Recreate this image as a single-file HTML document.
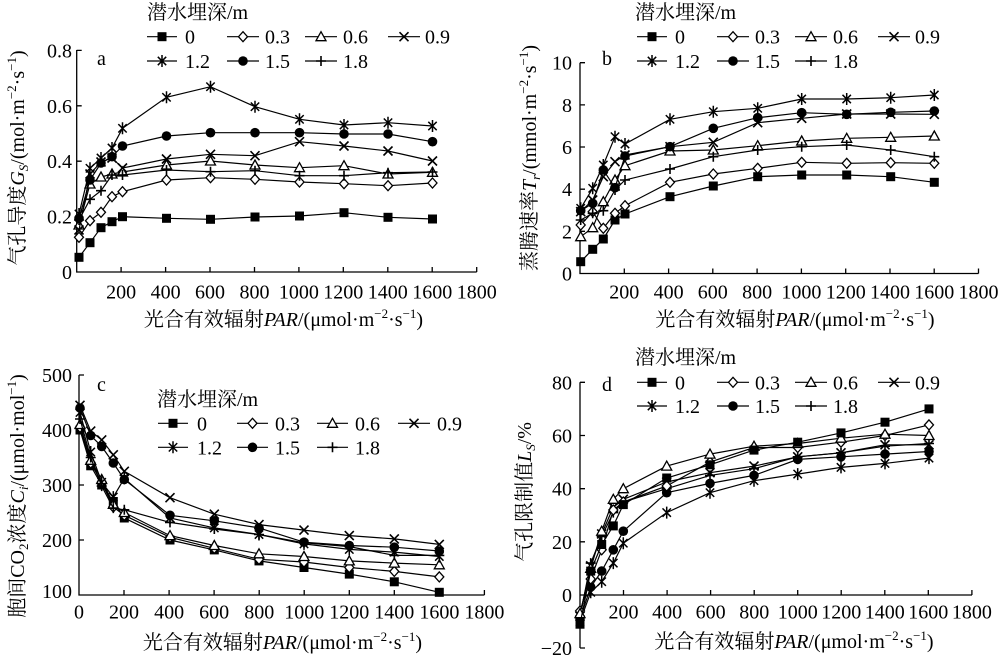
<!DOCTYPE html>
<html><head><meta charset="utf-8">
<style>
html,body{margin:0;padding:0;background:#fff;}
svg{display:block;}
text{font-family:"Liberation Serif","Noto Serif CJK SC",serif;font-size:20px;fill:#000;}
.ax{stroke:#000;stroke-width:1.3;fill:none;}
.p{fill:none;stroke:#000;stroke-width:1.2;}
.s0{marker-start:url(#k0);marker-mid:url(#k0);marker-end:url(#k0);}
.s1{marker-start:url(#k1);marker-mid:url(#k1);marker-end:url(#k1);}
.s2{marker-start:url(#k2);marker-mid:url(#k2);marker-end:url(#k2);}
.s3{marker-start:url(#k3);marker-mid:url(#k3);marker-end:url(#k3);}
.s4{marker-start:url(#k4);marker-mid:url(#k4);marker-end:url(#k4);}
.s5{marker-start:url(#k5);marker-mid:url(#k5);marker-end:url(#k5);}
.s6{marker-start:url(#k6);marker-mid:url(#k6);marker-end:url(#k6);}
.l0{marker-mid:url(#k0);}.l1{marker-mid:url(#k1);}.l2{marker-mid:url(#k2);}.l3{marker-mid:url(#k3);}
.l4{marker-mid:url(#k4);}.l5{marker-mid:url(#k5);}.l6{marker-mid:url(#k6);}
</style></head>
<body>
<svg width="1000" height="661" viewBox="0 0 1000 661" xmlns="http://www.w3.org/2000/svg">
<defs>
<marker id="k0" markerWidth="12" markerHeight="12" refX="6" refY="6" markerUnits="userSpaceOnUse" overflow="visible"><rect x="1.5" y="1.5" width="9" height="9" fill="#000"/></marker>
<marker id="k1" markerWidth="12" markerHeight="12" refX="6" refY="6" markerUnits="userSpaceOnUse" overflow="visible"><path d="M6,1 L10.5,6 L6,11 L1.5,6Z" fill="#fff" stroke="#000" stroke-width="1.3"/></marker>
<marker id="k2" markerWidth="12" markerHeight="12" refX="6" refY="6" markerUnits="userSpaceOnUse" overflow="visible"><path d="M6,1 L11,10 L1,10Z" fill="#fff" stroke="#000" stroke-width="1.3"/></marker>
<marker id="k3" markerWidth="12" markerHeight="12" refX="6" refY="6" markerUnits="userSpaceOnUse" overflow="visible"><path d="M1.5,1.5 L10.5,10.5 M1.5,10.5 L10.5,1.5" stroke="#000" stroke-width="1.6" fill="none"/></marker>
<marker id="k4" markerWidth="12" markerHeight="12" refX="6" refY="6" markerUnits="userSpaceOnUse" overflow="visible"><path d="M1.8,1.8 L10.2,10.2 M1.8,10.2 L10.2,1.8 M6,0 L6,12" stroke="#000" stroke-width="1.5" fill="none"/></marker>
<marker id="k5" markerWidth="12" markerHeight="12" refX="6" refY="6" markerUnits="userSpaceOnUse" overflow="visible"><circle cx="6" cy="6" r="4.8" fill="#000"/></marker>
<marker id="k6" markerWidth="12" markerHeight="12" refX="6" refY="6" markerUnits="userSpaceOnUse" overflow="visible"><path d="M1,6 L11,6 M6,1 L6,11" stroke="#000" stroke-width="1.6" fill="none"/></marker>
</defs>

<!-- ================= Panel a ================= -->
<path class="ax" d="M76.7,50 L76.7,272 L476.7,272"/>
<path class="ax" d="M76.7,50.4 h5 M76.7,105.8 h5 M76.7,161.2 h5 M76.7,216.6 h5 M121.1,272 v-5 M165.6,272 v-5 M210,272 v-5 M254.5,272 v-5 M298.9,272 v-5 M343.3,272 v-5 M387.8,272 v-5 M432.2,272 v-5 M476.7,272 v-5"/>
<g text-anchor="end">
<text x="72" y="57.4">0.8</text><text x="72" y="112.8">0.6</text><text x="72" y="168.2">0.4</text><text x="72" y="223.6">0.2</text><text x="72" y="279">0</text>
</g>
<g text-anchor="middle">
<text x="121.1" y="298.5">200</text><text x="165.6" y="298.5">400</text><text x="210" y="298.5">600</text><text x="254.5" y="298.5">800</text><text x="298.9" y="298.5">1000</text><text x="343.3" y="298.5">1200</text><text x="387.8" y="298.5">1400</text><text x="432.2" y="298.5">1600</text><text x="476.7" y="298.5">1800</text>
</g>
<text x="97" y="65">a</text>
<text x="283.5" y="326" text-anchor="middle">光合有效辐射<tspan font-style="italic">PAR</tspan>/(μmol·m<tspan font-size="13" dy="-8">−2</tspan><tspan dy="8">·s</tspan><tspan font-size="13" dy="-8">−1</tspan><tspan dy="8">)</tspan></text>
<text transform="translate(24,158) rotate(-90)" text-anchor="middle">气孔导度<tspan font-style="italic">G</tspan><tspan font-size="13" dy="4" font-style="italic">S</tspan><tspan dy="-4">/(mol·m</tspan><tspan font-size="13" dy="-8">−2</tspan><tspan dy="8">·s</tspan><tspan font-size="13" dy="-8">−1</tspan><tspan dy="8">)</tspan></text>

<polyline class="p s0" points="79,257.3 90,242.7 101,227.7 112,221.7 122.5,216.7 166.5,218.3 210.5,219.3 255,217 299.5,216 344,212.7 388,217.3 432.5,219"/>
<polyline class="p s1" points="79,237.3 90,220.7 101,212.3 112,196.7 122.5,191.7 166.5,180 210.5,177.7 255,179.3 299.5,182 344,183.7 388,185.7 432.5,183"/>
<polyline class="p s2" points="79,225 90,184 101,177 112,174 122.5,172 166.5,165 210.5,161 255,165 299.5,167.7 344,165.7 388,174 432.5,172.3"/>
<polyline class="p s6" points="79,220 90,199.3 101,190.7 112,175 122.5,175 166.5,170 210.5,171.7 255,170.7 299.5,175.7 344,175.7 388,172.7 432.5,172"/>
<polyline class="p s3" points="79,230 90,174 101,162 112,158 122.5,168 166.5,159 210.5,154.3 255,155.7 299.5,141.7 344,146 388,151 432.5,161"/>
<polyline class="p s5" points="79,218.3 90,180 101,163 112,156.7 122.5,146 166.5,136 210.5,132.7 255,132.7 299.5,132.7 344,134 388,134 432.5,141.7"/>
<polyline class="p s4" points="79,214 90,168.3 101,158 112,148 122.5,128.3 166.5,97.3 210.5,86.7 255,106.7 299.5,119.3 344,125 388,122.7 432.5,126"/>

<text x="147" y="19">潜水埋深/m</text>
<polyline class="p l0" points="147,36.7 162,36.7 177,36.7"/><text x="185" y="43.7">0</text>
<polyline class="p l1" points="227,36.7 243,36.7 259,36.7"/><text x="265" y="43.7">0.3</text>
<polyline class="p l2" points="305,36.7 321,36.7 337,36.7"/><text x="343" y="43.7">0.6</text>
<polyline class="p l3" points="388,36.7 404,36.7 420,36.7"/><text x="425" y="43.7">0.9</text>
<polyline class="p l4" points="147,61 162,61 177,61"/><text x="185" y="68">1.2</text>
<polyline class="p l5" points="227,61 243,61 259,61"/><text x="265" y="68">1.5</text>
<polyline class="p l6" points="305,61 321,61 337,61"/><text x="343" y="68">1.8</text>

<!-- ================= Panel b ================= -->
<path class="ax" d="M580,62.7 L580,273.5 L978.5,273.5"/>
<path class="ax" d="M580,62.7 h5 M580,104.9 h5 M580,147 h5 M580,189.2 h5 M580,231.3 h5 M624.3,273.5 v-5 M668.6,273.5 v-5 M712.8,273.5 v-5 M757.1,273.5 v-5 M801.4,273.5 v-5 M845.7,273.5 v-5 M890,273.5 v-5 M934.2,273.5 v-5 M978.5,273.5 v-5"/>
<g text-anchor="end">
<text x="572" y="69.7">10</text><text x="572" y="111.9">8</text><text x="572" y="154">6</text><text x="572" y="196.2">4</text><text x="572" y="238.3">2</text><text x="572" y="280.5">0</text>
</g>
<g text-anchor="middle">
<text x="624.3" y="298.5">200</text><text x="668.6" y="298.5">400</text><text x="712.8" y="298.5">600</text><text x="757.1" y="298.5">800</text><text x="801.4" y="298.5">1000</text><text x="845.7" y="298.5">1200</text><text x="890" y="298.5">1400</text><text x="934.2" y="298.5">1600</text><text x="978.5" y="298.5">1800</text>
</g>
<text x="602" y="65">b</text>
<text x="795" y="326" text-anchor="middle">光合有效辐射<tspan font-style="italic">PAR</tspan>/(μmol·m<tspan font-size="13" dy="-8">−2</tspan><tspan dy="8">·s</tspan><tspan font-size="13" dy="-8">−1</tspan><tspan dy="8">)</tspan></text>
<text transform="translate(536,158) rotate(-90)" text-anchor="middle">蒸腾速率<tspan font-style="italic">T</tspan><tspan font-size="13" dy="4" font-style="italic">r</tspan><tspan dy="-4">/(mmol·m</tspan><tspan font-size="13" dy="-8">−2</tspan><tspan dy="8">·s</tspan><tspan font-size="13" dy="-8">−1</tspan><tspan dy="8">)</tspan></text>

<polyline class="p s0" points="580.7,261.7 592.7,249.3 603.3,239 615,220 625,214 670,196.7 713.3,186 757.7,176.7 801.7,175 846.7,175 890.7,176.7 934.3,182.3"/>
<polyline class="p s1" points="580.7,225 592.7,211.7 603.3,228.3 615,213.3 625,205.7 670,182.3 713.3,174 757.7,168.3 801.7,162.3 846.7,163.3 890.7,162.7 934.3,163.3"/>
<polyline class="p s2" points="580.7,236.7 592.7,227.7 603.3,201.7 615,180 625,165.7 670,151 713.3,150 757.7,145.7 801.7,141 846.7,138.3 890.7,137.3 934.3,136"/>
<polyline class="p s6" points="580.7,220 592.7,213.3 603.3,210.7 615,190 625,180 670,169 713.3,156.7 757.7,150 801.7,146.7 846.7,145 890.7,150 934.3,156.7"/>
<polyline class="p s3" points="580.7,211.7 592.7,200 603.3,176.7 615,161.7 625,155 670,146.7 713.3,142.3 757.7,122.7 801.7,118.3 846.7,114 890.7,114 934.3,114.3"/>
<polyline class="p s5" points="580.7,210.7 592.7,203.3 603.3,170 615,187.7 625,156 670,146.7 713.3,128.3 757.7,117.7 801.7,112.7 846.7,114.3 890.7,112.3 934.3,111"/>
<polyline class="p s4" points="580.7,208.3 592.7,188.3 603.3,165 615,136.7 625,144 670,119.3 713.3,111.7 757.7,108.3 801.7,99 846.7,99 890.7,97.7 934.3,95"/>

<text x="635" y="19">潜水埋深/m</text>
<polyline class="p l0" points="637,36.7 652,36.7 667,36.7"/><text x="675" y="43.7">0</text>
<polyline class="p l1" points="717,36.7 733,36.7 749,36.7"/><text x="755" y="43.7">0.3</text>
<polyline class="p l2" points="795,36.7 811,36.7 827,36.7"/><text x="833" y="43.7">0.6</text>
<polyline class="p l3" points="878,36.7 894,36.7 910,36.7"/><text x="915" y="43.7">0.9</text>
<polyline class="p l4" points="637,61 652,61 667,61"/><text x="675" y="68">1.2</text>
<polyline class="p l5" points="717,61 733,61 749,61"/><text x="755" y="68">1.5</text>
<polyline class="p l6" points="795,61 811,61 827,61"/><text x="833" y="68">1.8</text>

<!-- ================= Panel c ================= -->
<path class="ax" d="M79,375 L79,595 L484.4,595"/>
<path class="ax" d="M79,375 h5 M79,430 h5 M79,485 h5 M79,540 h5 M124,595 v-5 M169.1,595 v-5 M214.1,595 v-5 M259.2,595 v-5 M304.2,595 v-5 M349.3,595 v-5 M394.3,595 v-5 M439.4,595 v-5 M484.4,595 v-5"/>
<g text-anchor="end">
<text x="72" y="382">500</text><text x="72" y="437">400</text><text x="72" y="492">300</text><text x="72" y="547">200</text><text x="72" y="598">100</text>
</g>
<g text-anchor="middle">
<text x="79" y="618.5">0</text><text x="124" y="618.5">200</text><text x="169.1" y="618.5">400</text><text x="214.1" y="618.5">600</text><text x="259.2" y="618.5">800</text><text x="304.2" y="618.5">1000</text><text x="349.3" y="618.5">1200</text><text x="394.3" y="618.5">1400</text><text x="439.4" y="618.5">1600</text><text x="484.4" y="618.5">1800</text>
</g>
<text x="97" y="391">c</text>
<text x="282.5" y="649" text-anchor="middle">光合有效辐射<tspan font-style="italic">PAR</tspan>/(μmol·m<tspan font-size="13" dy="-8">−2</tspan><tspan dy="8">·s</tspan><tspan font-size="13" dy="-8">−1</tspan><tspan dy="8">)</tspan></text>
<text transform="translate(24,496) rotate(-90)" text-anchor="middle">胞间CO<tspan font-size="13" dy="4">2</tspan><tspan dy="-4">浓度</tspan><tspan font-style="italic">C</tspan><tspan font-size="13" dy="4" font-style="italic">i</tspan><tspan dy="-4">/(μmol·mol</tspan><tspan font-size="13" dy="-8">−1</tspan><tspan dy="8">)</tspan></text>

<polyline class="p s0" points="80,430 90.7,465.8 101.7,485 113.3,501.5 124.3,518 170,540 214.3,549.9 259,560.9 304,567.5 349.3,574.1 394.3,581.8 439.3,592.3"/>
<polyline class="p s1" points="80,427.3 90.7,463 101.7,482.3 113.3,507 124.3,515.3 170,537.3 214.3,548.3 259,559.3 304,562 349.3,567.5 394.3,571.4 439.3,576.9"/>
<polyline class="p s2" points="80,424.5 90.7,460.3 101.7,479.5 113.3,504.3 124.3,512.5 170,535.6 214.3,545.5 259,553.8 304,556.5 349.3,560.9 394.3,563.1 439.3,564.8"/>
<polyline class="p s6" points="80,419 90.7,457.5 101.7,486.1 113.3,508.1 124.3,509.8 170,522.4 214.3,529 259,534.5 304,542.8 349.3,546.6 394.3,555.4 439.3,555.4"/>
<polyline class="p s4" points="80,412.4 90.7,452 101.7,482.3 113.3,497.1 124.3,478.4 170,518 214.3,527.9 259,534.5 304,543.9 349.3,549.4 394.3,552.1 439.3,556.5"/>
<polyline class="p s5" points="80,408 90.7,435.5 101.7,446.5 113.3,463 124.3,479.5 170,515.3 214.3,520.8 259,527.9 304,542.2 349.3,545.5 394.3,547.2 439.3,551"/>
<polyline class="p s3" points="80,405.3 90.7,431.1 101.7,439.9 113.3,454.8 124.3,471.3 170,497.7 214.3,514.2 259,524.6 304,530.1 349.3,535.6 394.3,538.9 439.3,544.4"/>

<text x="157" y="406">潜水埋深/m</text>
<polyline class="p l0" points="158,423.3 173,423.3 188,423.3"/><text x="197" y="430.3">0</text>
<polyline class="p l1" points="237,423.3 252.5,423.3 268,423.3"/><text x="275" y="430.3">0.3</text>
<polyline class="p l2" points="317,423.3 332.5,423.3 348,423.3"/><text x="355" y="430.3">0.6</text>
<polyline class="p l3" points="398,423.3 414,423.3 430,423.3"/><text x="437" y="430.3">0.9</text>
<polyline class="p l4" points="158,447.3 173,447.3 188,447.3"/><text x="197" y="454.3">1.2</text>
<polyline class="p l5" points="237,447.3 252.5,447.3 268,447.3"/><text x="275" y="454.3">1.5</text>
<polyline class="p l6" points="317,447.3 332.5,447.3 348,447.3"/><text x="355" y="454.3">1.8</text>

<!-- ================= Panel d ================= -->
<path class="ax" d="M580,382.3 L580,648 M580,595 L972,595"/>
<path class="ax" d="M580,382.3 h5 M580,435.5 h5 M580,488.7 h5 M580,541.8 h5 M580,648 h5 M623.5,595 v-5 M667.1,595 v-5 M710.6,595 v-5 M754.2,595 v-5 M797.7,595 v-5 M841.2,595 v-5 M884.8,595 v-5 M928.3,595 v-5 M971.9,595 v-5"/>
<g text-anchor="end">
<text x="572" y="389.3">80</text><text x="572" y="442.5">60</text><text x="572" y="495.7">40</text><text x="572" y="548.8">20</text><text x="572" y="602">0</text><text x="572" y="655">−20</text>
</g>
<g text-anchor="middle">
<text x="623.5" y="618.5">200</text><text x="667.1" y="618.5">400</text><text x="710.6" y="618.5">600</text><text x="754.2" y="618.5">800</text><text x="797.7" y="618.5">1000</text><text x="841.2" y="618.5">1200</text><text x="884.8" y="618.5">1400</text><text x="928.3" y="618.5">1600</text><text x="971.9" y="618.5">1800</text>
</g>
<text x="602" y="391">d</text>
<text x="794" y="648" text-anchor="middle">光合有效辐射<tspan font-style="italic">PAR</tspan>/(μmol·m<tspan font-size="13" dy="-8">−2</tspan><tspan dy="8">·s</tspan><tspan font-size="13" dy="-8">−1</tspan><tspan dy="8">)</tspan></text>
<text transform="translate(531,492) rotate(-90)" text-anchor="middle">气孔限制值<tspan font-style="italic">L</tspan><tspan font-size="13" dy="4" font-style="italic">S</tspan><tspan dy="-4">/%</tspan></text>

<polyline class="p s4" points="580,621.6 590.7,592.3 601.7,581.7 613.3,563.1 623.3,543.2 666.7,512.6 710,492.7 754,480.7 797.7,474.1 841,467.4 885,463.4 929,458.1"/>
<polyline class="p s5" points="580,618.9 590.7,587 601.7,571.1 613.3,549.8 623.3,531.2 666.7,492.7 710,483.4 754,475.4 797.7,459.4 841,456.8 885,454.1 929,451.5"/>
<polyline class="p s6" points="580,616.3 590.7,563.1 601.7,536.5 613.3,512.6 623.3,502 666.7,488.7 710,475.4 754,468.7 797.7,456.8 841,452.8 885,446.2 929,443.5"/>
<polyline class="p s3" points="580,616.3 590.7,565.8 601.7,533.9 613.3,507.3 623.3,499.3 666.7,482 710,472.7 754,466.1 797.7,456.8 841,452.8 885,444.8 929,444.8"/>
<polyline class="p s1" points="580,611 590.7,579 601.7,549.8 613.3,510 623.3,502 666.7,486 710,462.1 754,447.5 797.7,447.5 841,442.2 885,435.5 929,424.9"/>
<polyline class="p s2" points="580,613.6 590.7,568.4 601.7,531.2 613.3,499.3 623.3,488.7 666.7,466.1 710,454.1 754,446.2 797.7,443.5 841,438.2 885,434.2 929,435.5"/>
<polyline class="p s0" points="580,624.2 590.7,571.1 601.7,544.5 613.3,525.9 623.3,504.6 666.7,478 710,464.8 754,450.1 797.7,442.2 841,432.9 885,422.2 929,408.9"/>

<text x="635" y="364">潜水埋深/m</text>
<polyline class="p l0" points="637,382.3 652,382.3 667,382.3"/><text x="675" y="389.3">0</text>
<polyline class="p l1" points="717,382.3 733,382.3 749,382.3"/><text x="755" y="389.3">0.3</text>
<polyline class="p l2" points="795,382.3 811,382.3 827,382.3"/><text x="833" y="389.3">0.6</text>
<polyline class="p l3" points="878,382.3 894,382.3 910,382.3"/><text x="915" y="389.3">0.9</text>
<polyline class="p l4" points="637,406 652,406 667,406"/><text x="675" y="413">1.2</text>
<polyline class="p l5" points="717,406 733,406 749,406"/><text x="755" y="413">1.5</text>
<polyline class="p l6" points="795,406 811,406 827,406"/><text x="833" y="413">1.8</text>
</svg>
</body></html>
